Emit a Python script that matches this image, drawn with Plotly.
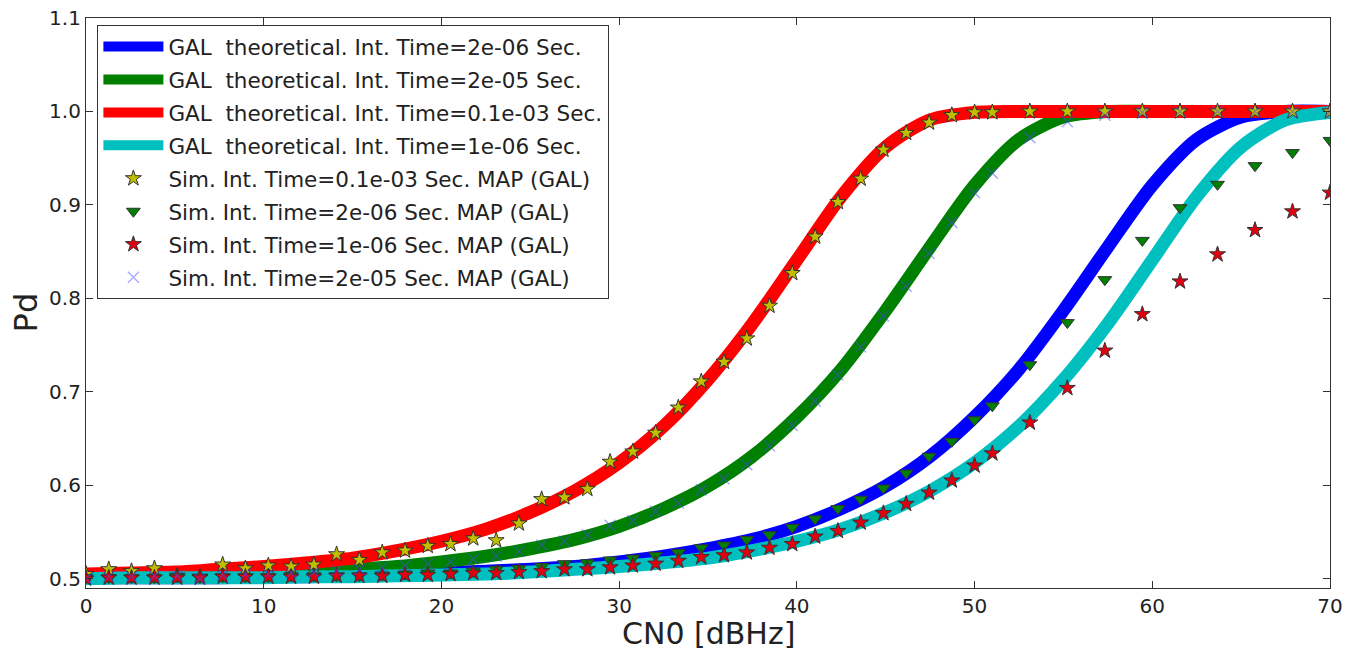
"""
Pd vs CN0: theoretical curves and MAP simulation points (GAL)
"""

import plotly.graph_objects as go

# theoretical curves, sampled every 2.5 dBHz
cn0_theory = [0, 2.5, 5, 7.5, 10, 12.5, 15, 17.5, 20, 22.5, 25, 27.5, 30, 32.5, 35,
              37.5, 40, 42.5, 45, 47.5, 50, 52.5, 55, 57.5, 60, 62.5, 65, 67.5, 70]

pd_th_2e06 = [0.501, 0.501, 0.501, 0.501, 0.502, 0.502, 0.503, 0.504, 0.506, 0.508,
              0.510, 0.513, 0.518, 0.524, 0.532, 0.542, 0.556, 0.575, 0.599, 0.631,
              0.673, 0.724, 0.787, 0.855, 0.921, 0.970, 0.994, 1.000, 1.000]
pd_th_2e05 = [0.502, 0.502, 0.503, 0.504, 0.506, 0.508, 0.510, 0.513, 0.518, 0.524,
              0.532, 0.542, 0.556, 0.575, 0.599, 0.631, 0.673, 0.724, 0.787, 0.855,
              0.921, 0.970, 0.994, 1.000, 1.000, 1.000, 1.000, 1.000, 1.000]
pd_th_1e04 = [0.505, 0.506, 0.507, 0.510, 0.513, 0.517, 0.522, 0.530, 0.540, 0.553,
              0.571, 0.594, 0.624, 0.663, 0.713, 0.773, 0.841, 0.909, 0.962, 0.991,
              0.999, 1.000, 1.000, 1.000, 1.000, 1.000, 1.000, 1.000, 1.000]
pd_th_1e06 = [0.500, 0.501, 0.501, 0.501, 0.501, 0.502, 0.502, 0.503, 0.504, 0.505,
              0.507, 0.510, 0.513, 0.517, 0.522, 0.530, 0.540, 0.553, 0.571, 0.594,
              0.624, 0.663, 0.713, 0.773, 0.841, 0.909, 0.962, 0.991, 0.999]

# simulation points
cn0_sim = [0, 1.28, 2.56, 3.85, 5.13, 6.41, 7.69, 8.97, 10.26, 11.54,
           12.82, 14.10, 15.38, 16.67, 17.95, 19.23, 20.51, 21.79, 23.08, 24.36,
           25.64, 26.92, 28.21, 29.49, 30.77, 32.05, 33.33, 34.62, 35.90, 37.18,
           38.46, 39.74, 41.03, 42.31, 43.59, 44.87, 46.15, 47.44, 48.72, 50.00,
           51.00, 53.11, 55.22, 57.33, 59.44, 61.56, 63.67, 65.78, 67.89, 70.00]

pd_sim_1e04 = [0.505, 0.510, 0.508, 0.511, 0.503, 0.502, 0.515, 0.511, 0.514, 0.513,
               0.515, 0.526, 0.520, 0.528, 0.530, 0.535, 0.537, 0.543, 0.541, 0.559,
               0.585, 0.587, 0.596, 0.625, 0.636, 0.656, 0.683, 0.711, 0.732, 0.757,
               0.792, 0.827, 0.866, 0.903, 0.928, 0.959, 0.977, 0.988, 0.996, 0.999,
               0.999, 1.000, 1.000, 1.000, 1.000, 1.000, 1.000, 1.000, 1.000, 1.000]
pd_sim_2e06 = [0.501, 0.501, 0.501, 0.501, 0.502, 0.501, 0.502, 0.502, 0.502, 0.503,
               0.503, 0.503, 0.503, 0.504, 0.505, 0.506, 0.506, 0.508, 0.510, 0.511,
               0.513, 0.516, 0.517, 0.520, 0.522, 0.525, 0.528, 0.533, 0.536, 0.542,
               0.547, 0.555, 0.564, 0.575, 0.585, 0.597, 0.613, 0.631, 0.647, 0.670,
               0.685, 0.729, 0.774, 0.820, 0.862, 0.897, 0.922, 0.942, 0.956, 0.969]
pd_sim_1e06 = [0.500, 0.501, 0.501, 0.501, 0.501, 0.501, 0.502, 0.502, 0.502, 0.502,
               0.502, 0.503, 0.503, 0.503, 0.504, 0.504, 0.505, 0.506, 0.506, 0.507,
               0.508, 0.510, 0.510, 0.512, 0.514, 0.516, 0.519, 0.523, 0.525, 0.528,
               0.533, 0.537, 0.545, 0.551, 0.560, 0.570, 0.580, 0.592, 0.605, 0.621,
               0.634, 0.667, 0.704, 0.744, 0.783, 0.818, 0.847, 0.873, 0.893, 0.913]
pd_sim_2e05 = [0.500, 0.502, 0.502, 0.503, 0.503, 0.500, 0.504, 0.505, 0.505, 0.506,
               0.507, 0.509, 0.510, 0.512, 0.514, 0.516, 0.518, 0.521, 0.524, 0.529,
               0.536, 0.540, 0.547, 0.557, 0.562, 0.572, 0.581, 0.595, 0.607, 0.622,
               0.642, 0.664, 0.690, 0.718, 0.748, 0.781, 0.813, 0.848, 0.881, 0.913,
               0.934, 0.972, 0.989, 0.996, 0.999, 1.000, 1.000, 1.000, 1.000, 1.000]

FONT = "DejaVu Sans"
NB = "\u00a0"  # keep the double space of the original legend labels

fig = go.Figure()

# theoretical curves (cyan drawn last so it sits on top, like the original)
theory = [
    (f"GAL{NB} theoretical. Int. Time=2e-06 Sec.", pd_th_2e06, "#0000ff"),
    (f"GAL{NB} theoretical. Int. Time=2e-05 Sec.", pd_th_2e05, "#008000"),
    (f"GAL{NB} theoretical. Int. Time=0.1e-03 Sec.", pd_th_1e04, "#ff0000"),
    (f"GAL{NB} theoretical. Int. Time=1e-06 Sec.", pd_th_1e06, "#00bfbf"),
]
for i, (name, vals, col) in enumerate(theory):
    fig.add_trace(go.Scatter(
        x=cn0_theory, y=vals, mode="lines", name=name,
        line=dict(color=col, width=13, shape="spline", smoothing=0.8),
        legendgroup=f"g{i}"
    ))

# simulation markers
sims = [
    ("Sim. Int. Time=0.1e-03 Sec. MAP (GAL)", pd_sim_1e04,
     dict(symbol="star", size=12, color="#bfbf00", line=dict(color="#333333", width=1))),
    ("Sim. Int. Time=2e-06 Sec. MAP (GAL)", pd_sim_2e06,
     dict(symbol="triangle-down", size=12, color="#008000", line=dict(color="#333333", width=1))),
    ("Sim. Int. Time=1e-06 Sec. MAP (GAL)", pd_sim_1e06,
     dict(symbol="star", size=12, color="#e00010", line=dict(color="#333333", width=1))),
    ("Sim. Int. Time=2e-05 Sec. MAP (GAL)", pd_sim_2e05,
     dict(symbol="x-thin", size=11, color="rgba(70,70,255,0.45)",
          line=dict(color="rgba(70,70,255,0.45)", width=1.5))),
]
for j, (name, vals, mk) in enumerate(sims):
    fig.add_trace(go.Scatter(
        x=cn0_sim, y=vals, mode="markers", name=name, marker=mk,
        legendgroup=f"s{j}"
    ))

axis_common = dict(
    showgrid=False, zeroline=False, automargin=False,
    showline=True, linecolor="#333333", linewidth=1.2, mirror="ticks",
    ticks="inside", ticklen=7, tickcolor="#333333", ticklabeloverflow="allow",
    tickfont=dict(family=FONT, size=20, color="#222222"),
)

fig.update_layout(
    width=1358, height=655,
    margin=dict(l=86, r=28, t=18, b=67),
    paper_bgcolor="white", plot_bgcolor="white",
    font=dict(family=FONT, color="#222222"),
    showlegend=True,
    legend=dict(
        x=0.009, y=0.988, xanchor="left", yanchor="top",
        bgcolor="white", bordercolor="#333333", borderwidth=1.2,
        font=dict(family=FONT, size=21.5, color="#222222"),
        tracegroupgap=2, itemwidth=60,
    ),
    xaxis=dict(range=[0, 70], tickvals=[0, 10, 20, 30, 40, 50, 60, 70], **axis_common),
    yaxis=dict(range=[0.49, 1.1], tickvals=[0.5, 0.6, 0.7, 0.8, 0.9, 1.0, 1.1],
               tickformat=".1f", **axis_common),
    annotations=[
        dict(text="CN0 [dBHz]", xref="paper", yref="paper", x=0.5, y=-0.08,
             xanchor="center", yanchor="middle", showarrow=False,
             font=dict(family=FONT, size=30, color="#222222")),
        dict(text="Pd", xref="paper", yref="paper", x=-0.048, y=0.484,
             xanchor="center", yanchor="middle", showarrow=False, textangle=-90,
             font=dict(family=FONT, size=32, color="#222222")),
    ],
)

# drop the default page margin so the figure fills the window exactly
fig.write_html("out.html", config={"displayModeBar": False},
               post_script="document.body.style.margin = '0';")
